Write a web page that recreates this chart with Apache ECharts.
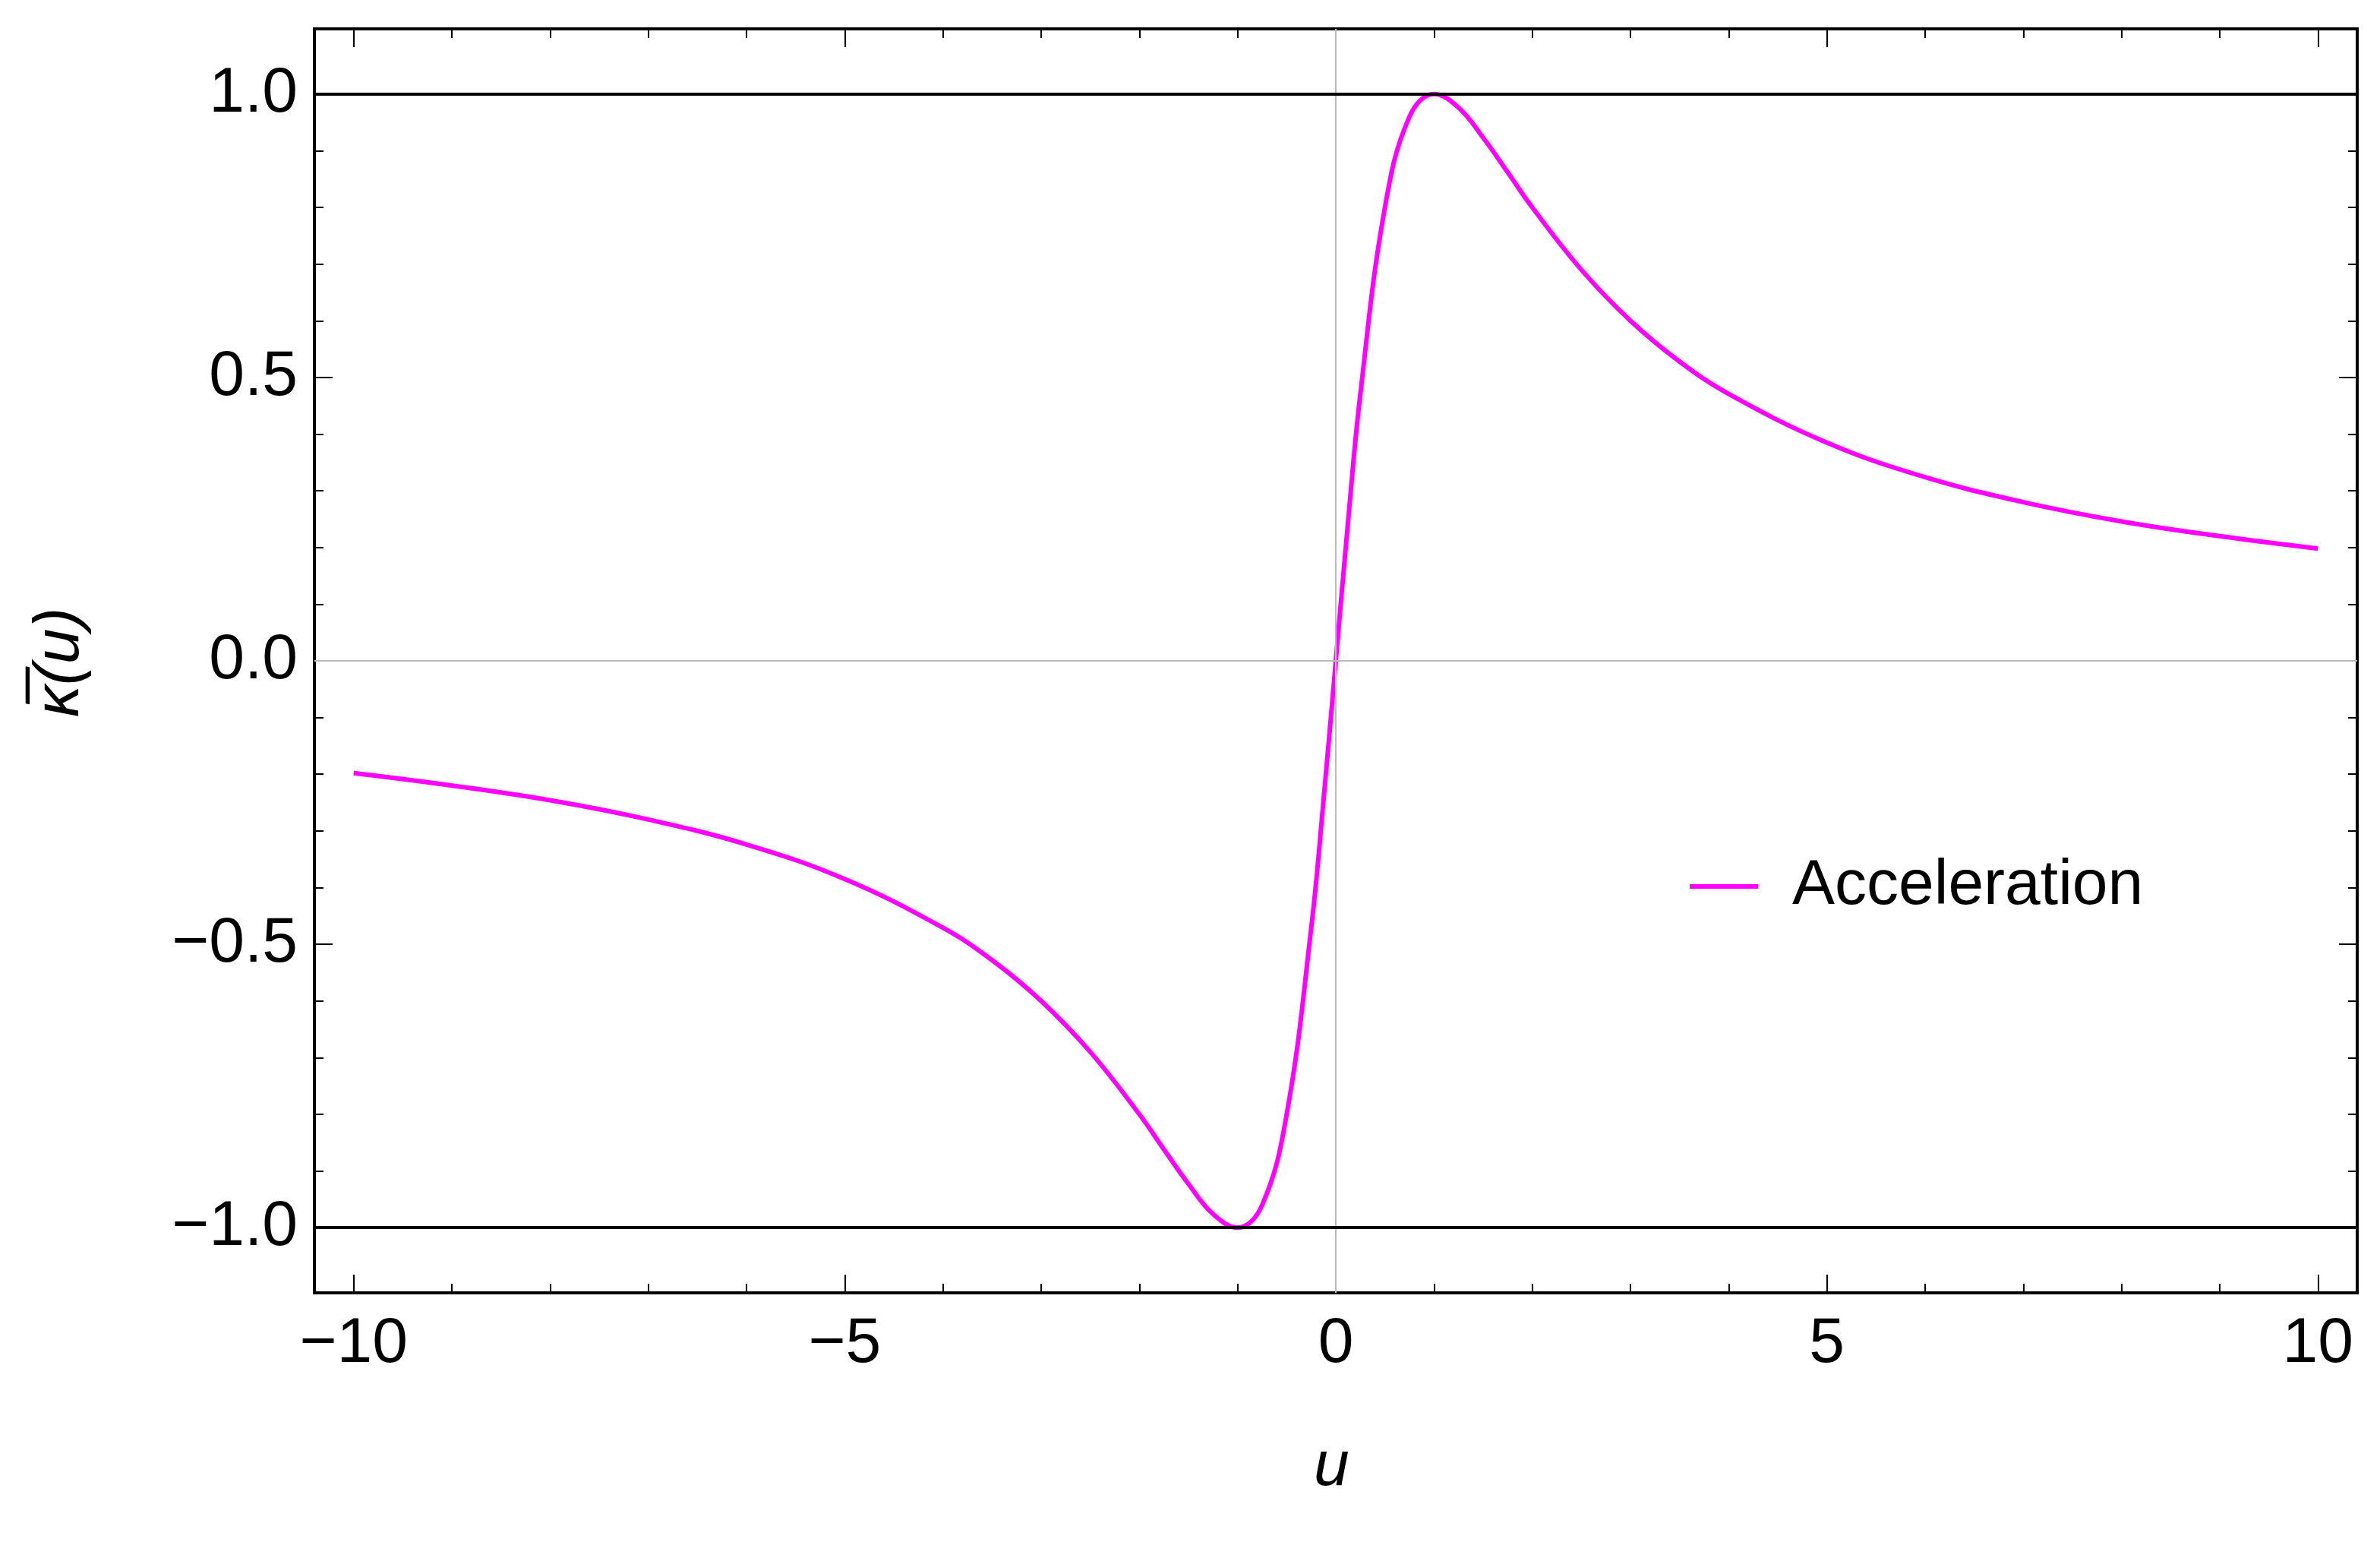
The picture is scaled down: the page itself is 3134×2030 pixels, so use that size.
<!DOCTYPE html>
<html style="height: 100%">
<head>
  <meta charset="utf-8">
  <script src="https://cdn.jsdelivr.net/npm/echarts@6/dist/echarts.min.js"></script>
</head>
<body style="height: 100%; margin: 0; background: #fff">
  <div id="container" style="width: 3134px; height: 2030px"></div>
  <script>
    // values
    var uValues = [-10, -9, -8, -7, -6, -5, -4, -3.5, -3, -2.5, -2, -1.75, -1.5, -1.25, -1, -0.75, -0.5, -0.25, -0.125, 0,
                   0.125, 0.25, 0.5, 0.75, 1, 1.25, 1.5, 1.75, 2, 2.5, 3, 3.5, 4, 5, 6, 7, 8, 9, 10];
    var kappaValues = [-0.198, -0.22, -0.246, -0.28, -0.324, -0.385, -0.471, -0.528, -0.6, -0.69, -0.8, -0.862, -0.923, -0.976, -1, -0.96, -0.8, -0.471, -0.246, 0,
                       0.246, 0.471, 0.8, 0.96, 1, 0.976, 0.923, 0.862, 0.8, 0.69, 0.6, 0.528, 0.471, 0.385, 0.324, 0.28, 0.246, 0.22, 0.198];
    var xMajor = [-10, -5, 0, 5, 10];
    var xMinor = [-9, -8, -7, -6, -4, -3, -2, -1, 1, 2, 3, 4, 6, 7, 8, 9];
    var yMajor = [-1, -0.5, 0, 0.5, 1];
    var yMinor = [-0.9, -0.8, -0.7, -0.6, -0.4, -0.3, -0.2, -0.1, 0.1, 0.2, 0.3, 0.4, 0.6, 0.7, 0.8, 0.9];

    var font = 'Liberation Sans, Arial, sans-serif';
    var minus = function (s) { return String(s).replace('-', '\u2212'); };

    function xAxis(pos, ticks, len, labels) {
      return {
        type: 'value', position: pos, min: -10.4, max: 10.4,
        axisLine: { show: false, onZero: false }, splitLine: { show: false },
        axisTick: { show: true, inside: true, length: len, customValues: ticks, lineStyle: { color: '#000', width: 2 } },
        axisLabel: labels ? { show: true, customValues: ticks, margin: 26, fontSize: 84, color: '#000', fontFamily: font, formatter: function (v) { return minus(v); } } : { show: false }
      };
    }
    function yAxis(pos, ticks, len, labels) {
      return {
        type: 'value', position: pos, min: -1.115, max: 1.115,
        axisLine: { show: false, onZero: false }, splitLine: { show: false },
        axisTick: { show: true, inside: true, length: len, customValues: ticks, lineStyle: { color: '#000', width: 2 } },
        axisLabel: labels ? { show: true, customValues: ticks, margin: 22, fontSize: 84, color: '#000', fontFamily: font, formatter: function (v) { return minus(v.toFixed(1)); } } : { show: false }
      };
    }

    var data = uValues.map(function (u, i) { return [u, kappaValues[i]]; });

    var chart = echarts.init(document.getElementById('container'));
    chart.setOption({
      animation: false,
      grid: { left: 414, right: 30, top: 38, bottom: 328, show: true, borderColor: '#000', borderWidth: 4, backgroundColor: 'transparent' },
      xAxis: [xAxis('bottom', xMajor, 24, true), xAxis('bottom', xMinor, 12, false), xAxis('top', xMajor, 24, false), xAxis('top', xMinor, 12, false)],
      yAxis: [yAxis('left', yMajor, 24, true), yAxis('left', yMinor, 12, false), yAxis('right', yMajor, 24, false), yAxis('right', yMinor, 12, false)],
      legend: {
        left: 2220, top: 1120, itemWidth: 90, itemHeight: 6, itemGap: 20,
        icon: 'rect',
        textStyle: { fontSize: 84, color: '#000', fontFamily: font, padding: [0, 0, 0, 40] },
        data: ['Acceleration']
      },
      graphic: [
        { type: 'text', left: 1730, top: 1890, style: { text: 'u', font: 'italic 84px ' + font, fill: '#000' } },
        { type: 'text', x: 80, y: 872, rotation: Math.PI / 2, style: { text: 'κ\u0305(u)', font: 'italic 84px ' + font, fill: '#000', align: 'center', verticalAlign: 'middle' } }
      ],
      series: [{
        name: 'Acceleration', type: 'line', data: data, smooth: 0.4, showSymbol: false,
        itemStyle: { color: '#ff00ff' },
        lineStyle: { color: '#ff00ff', width: 6 },
        markLine: {
          silent: true, symbol: 'none', label: { show: false },
          data: [
            { yAxis: 0, lineStyle: { color: '#bbb', width: 2, type: 'solid' } },
            { xAxis: 0, lineStyle: { color: '#bbb', width: 2, type: 'solid' } },
            { yAxis: 1, lineStyle: { color: '#000', width: 4, type: 'solid' } },
            { yAxis: -1, lineStyle: { color: '#000', width: 4, type: 'solid' } }
          ]
        }
      }]
    });
  </script>
</body>
</html>
